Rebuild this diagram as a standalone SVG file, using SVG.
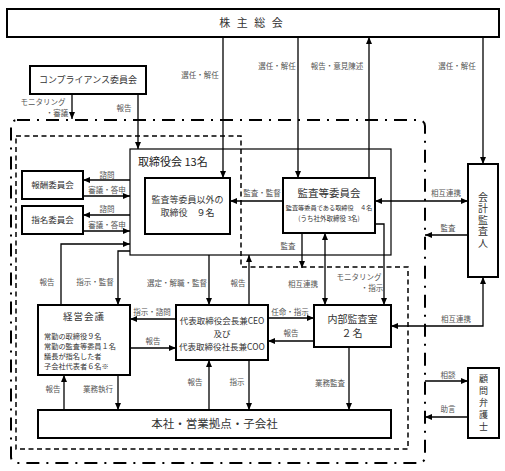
<svg xmlns="http://www.w3.org/2000/svg" width="505" height="471" viewBox="0 0 505 471">
<style>
text{font-family:"Noto Sans CJK JP","Noto Sans",sans-serif;}
.box{fill:#fff;stroke:#000;stroke-width:2;}
.thin{fill:none;stroke:#000;stroke-width:1.2;}
.bt{fill:#333;text-anchor:middle;}
.vt{fill:#333;text-anchor:middle;writing-mode:vertical-rl;}
.lb{fill:#555;font-size:7.5px;text-anchor:middle;}
.c{fill:none;stroke:#000;stroke-width:1.3;}
.e{marker-end:url(#ah);}
.s{marker-start:url(#ah);}
</style>
<defs>
<marker id="ah" viewBox="0 0 7 6" refX="7" refY="3" markerWidth="7" markerHeight="6" markerUnits="userSpaceOnUse" orient="auto-start-reverse">
<path d="M0,0 L7,3 L0,6 z" fill="#000"/>
</marker>
</defs>

<!-- group borders -->
<g id="borders">
<rect x="11" y="120" width="414" height="343" rx="6" fill="none" stroke="#000" stroke-width="2" stroke-dasharray="13 7 2 7"/>
<path d="M16,136 H241 V267 H408 V449 H16 Z" fill="none" stroke="#000" stroke-width="1.5" stroke-dasharray="5 3.5"/>
</g>

<g id="shareholders">
<rect class="box" x="7" y="9" width="492" height="28"/>
<text class="bt" x="252" y="27" font-size="11" fill="#222" letter-spacing="2">株 主 総 会</text>
</g>

<g id="compliance">
<rect class="box" x="30" y="66" width="116" height="28"/>
<text class="bt" x="88" y="83.4" font-size="9">コンプライアンス委員会</text>
</g>

<g id="remuneration">
<rect class="box" x="22" y="171" width="61" height="28"/>
<text class="bt" x="52.5" y="188.2" font-size="8.5">報酬委員会</text>
</g>

<g id="nomination">
<rect class="box" x="22" y="206" width="61" height="28"/>
<text class="bt" x="52.5" y="223.2" font-size="8.5">指名委員会</text>
</g>

<g id="board">
<rect class="thin" x="130" y="149" width="261" height="106"/>
<text x="138" y="166" font-size="11" fill="#222">取締役会 13名</text>
</g>

<g id="directors">
<rect class="box" x="145" y="178" width="85" height="56"/>
<text class="bt" x="187.5" y="203.4" font-size="9">監査等委員以外の</text>
<text class="bt" x="187.5" y="216.4" font-size="9">取締役　９名</text>
</g>

<g id="audit-committee">
<rect class="box" x="283" y="178" width="92" height="55"/>
<text class="bt" x="329" y="197" font-size="10.5">監査等委員会</text>
<text class="bt" x="329" y="209.5" font-size="6.2">監査等委員である取締役　４名</text>
<text class="bt" x="329" y="220.5" font-size="6.5">(うち社外取締役 3名)</text>
</g>

<g id="accounting-auditor">
<rect class="box" x="468" y="164" width="30" height="113"/>
<text class="vt" x="483" y="220.5" font-size="10" letter-spacing="1.5">会計監査人</text>
</g>

<g id="management-meeting">
<rect class="box" x="38" y="305" width="92" height="70"/>
<text class="bt" x="84" y="319.8" font-size="9.5" letter-spacing="1">経営会議</text>
<g fill="#333" font-size="7.2">
<text x="44" y="339">常勤の取締役９名</text>
<text x="44" y="349">常勤の監査等委員１名</text>
<text x="44" y="359">議長が指名した者</text>
<text x="44" y="369">子会社代表者６名※</text>
</g>
</g>

<g id="ceo">
<rect class="box" x="176" y="305" width="92" height="55"/>
<text class="bt" x="222" y="324.2" font-size="8.5">代表取締役会長兼CEO</text>
<text class="bt" x="222" y="336.6" font-size="8.5">及び</text>
<text class="bt" x="222" y="350.2" font-size="8.5">代表取締役社長兼COO</text>
</g>

<g id="internal-audit">
<rect class="box" x="314" y="305" width="77" height="42"/>
<text class="bt" x="352.5" y="322.8" font-size="10">内部監査室</text>
<text class="bt" x="352.5" y="336.8" font-size="10" letter-spacing="1">２名</text>
</g>

<g id="operations">
<rect class="box" x="38" y="410" width="353" height="28"/>
<text class="bt" x="214.5" y="428.4" font-size="11.5">本社・営業拠点・子会社</text>
</g>

<g id="lawyer">
<rect class="box" x="468" y="368" width="31" height="70"/>
<text class="vt" x="483.5" y="404" font-size="9" letter-spacing="2.8">顧問弁護士</text>
</g>

<g id="connectors">
<path class="c e" d="M223,37 V178"/>
<path class="c e" d="M298,37 V178"/>
<path class="c e" d="M369,178 V37"/>
<path class="c e" d="M483,37 V164"/>
<path class="c e" d="M72,94 V119"/>
<path class="c e" d="M138,94 V149"/>
<path class="c e" d="M130,180 H83"/>
<path class="c e" d="M83,196 H130"/>
<path class="c e" d="M130,215 H83"/>
<path class="c e" d="M83,231 H130"/>
<path class="c e" d="M283,201 H230"/>
<path class="c e s" d="M375,201 H468"/>
<path class="c e" d="M468,235 H425"/>
<path class="c e" d="M302,233 V268"/>
<path class="c e" d="M375,224 H384 V305"/>
<path class="c e s" d="M325,233 V305"/>
<path class="c e s" d="M483,277 V326 H391"/>
<path class="c e" d="M61,305 V244 H130"/>
<path class="c e" d="M130,251 H118 V305"/>
<path class="c e" d="M209,255 V305"/>
<path class="c e" d="M249,305 V255"/>
<path class="c e" d="M176,319 H130"/>
<path class="c e" d="M130,348 H176"/>
<path class="c e" d="M268,318 H314"/>
<path class="c e" d="M314,341 H268"/>
<path class="c e" d="M64,410 V375"/>
<path class="c e" d="M118,375 V410"/>
<path class="c e" d="M209,410 V360"/>
<path class="c e" d="M249,360 V410"/>
<path class="c e" d="M349,347 V410"/>
<path class="c e" d="M425,381 H468"/>
<path class="c e" d="M468,417 H425"/>
</g>

<g id="labels">
<text class="lb" x="200" y="77.9">選任・解任</text>
<text class="lb" x="277" y="68.9">選任・解任</text>
<text class="lb" x="337" y="68.9">報告・意見陳述</text>
<text class="lb" x="457" y="68.9">選任・解任</text>
<text class="lb" x="43" y="104.9">モニタリング</text>
<text class="lb" x="57" y="115.9">・審議</text>
<text class="lb" x="124" y="110.9">報告</text>
<text class="lb" x="107" y="177.9">諮問</text>
<text class="lb" x="107" y="192.9">審議・答申</text>
<text class="lb" x="107" y="211.9">諮問</text>
<text class="lb" x="107" y="227.9">審議・答申</text>
<text class="lb" x="262" y="195.9">監査・監督</text>
<text class="lb" x="446" y="195.9">相互連携</text>
<text class="lb" x="448" y="230.9">監査</text>
<text class="lb" x="288" y="248.9">監査</text>
<text class="lb" x="303" y="286.9">相互連携</text>
<text class="lb" x="359" y="279.9">モニタリング</text>
<text class="lb" x="372" y="291">・指示</text>
<text class="lb" x="47" y="284.9">報告</text>
<text class="lb" x="95" y="284.9">指示・監督</text>
<text class="lb" x="177" y="285.9">選定・解職・監督</text>
<text class="lb" x="238" y="285.9">報告</text>
<text class="lb" x="152" y="314.9">指示・諮問</text>
<text class="lb" x="153" y="343.9">報告</text>
<text class="lb" x="290" y="314.9">任命・指示</text>
<text class="lb" x="291" y="335.9">報告</text>
<text class="lb" x="456" y="321.9">相互連携</text>
<text class="lb" x="53" y="391.9">報告</text>
<text class="lb" x="98" y="391.9">業務執行</text>
<text class="lb" x="195" y="384.9">報告</text>
<text class="lb" x="237" y="384.9">指示</text>
<text class="lb" x="330" y="385.9">業務監査</text>
<text class="lb" x="448" y="377.9">相談</text>
<text class="lb" x="448" y="411.9">助言</text>
</g>
</svg>
